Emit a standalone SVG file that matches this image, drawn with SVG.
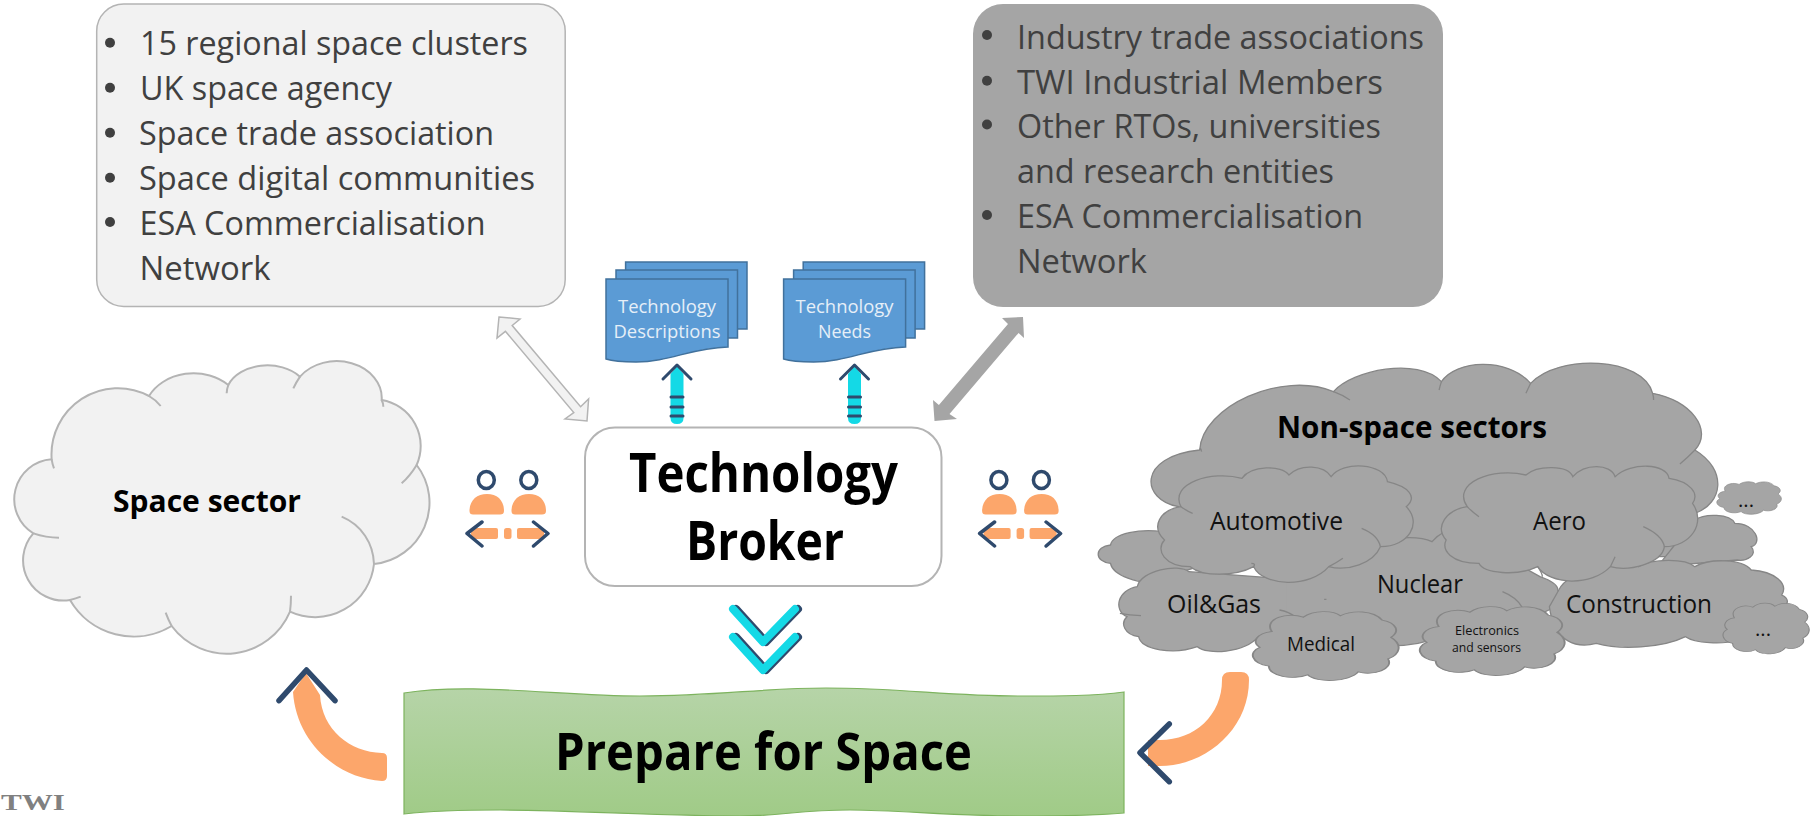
<svg xmlns="http://www.w3.org/2000/svg" xmlns:xlink="http://www.w3.org/1999/xlink" width="1816" height="816" viewBox="0 0 1816 816">
<style>
text{font-family:"Open Sans","Noto Sans","Liberation Sans",sans-serif}
.li{font-size:32px;fill:#404040}
.b{fill:#404040}
.tb{font-weight:700;fill:#000}
.sec{font-size:25px;fill:#111}
.doc{fill:#5b9bd5;stroke:#41719c;stroke-width:1.5}
.dt{font-size:19px;fill:#e6eff8;text-anchor:middle}
.cg path,.cg use{fill:#a5a5a5;stroke:#868686;stroke-width:1.3;vector-effect:non-scaling-stroke}
.cg path.t{fill:none}
.cg path.n{stroke:none}
.cs path{fill:#f2f2f2;stroke:#b4b4b4;stroke-width:2;vector-effect:non-scaling-stroke}
.cs path.t{fill:none}
.dk{fill:none;stroke:#2f4a6d;stroke-linecap:round;stroke-linejoin:round}
.or{fill:#fca66b}
.cy{fill:#14d9e6}
</style>
<defs>
<linearGradient id="gr" x1="0" y1="0" x2="0" y2="1"><stop offset="0" stop-color="#b6d4a8"/><stop offset="1" stop-color="#a0cb87"/></linearGradient>
<path id="sc" d="M14 30C8 12 25 2 35 10C42 0 55 0 60 8C68 0 82 0 88 14C98 18 100 30 94 38C102 48 100 62 92 68C96 82 82 92 72 86C66 100 44 102 38 90C28 98 12 92 12 78C0 74 -2 58 6 52C0 44 4 32 14 30Z"/>
<g id="people">
<ellipse cx="486.300" cy="480" rx="8" ry="8.500" fill="none" stroke="#2f4a6d" stroke-width="3.500"/>
<ellipse cx="528.800" cy="480" rx="8" ry="8.500" fill="none" stroke="#2f4a6d" stroke-width="3.500"/>
<path class="or" d="M469.500 511C469.500 500 477 494 487 494S504 500 504 511Q504 514.500 500 514.500H473Q469.500 514.500 469.500 511Z"/>
<path class="or" d="M511.500 511C511.500 500 519 494 529 494S546 500 546 511Q546 514.500 542 514.500H515Q511.500 514.500 511.500 511Z"/>
<rect class="or" x="471" y="528" width="27" height="11" rx="2"/>
<rect class="or" x="504" y="528" width="7.500" height="11" rx="2.500"/>
<rect class="or" x="517" y="528" width="27" height="11" rx="2"/>
<path class="dk" stroke-width="3.500" d="M482 522L467 533.500L482 546M533.500 522L548 533.500L533.500 546"/>
</g>
</defs>

<g id="connectors">
<polygon points="499,317 520,319 512.200,325.500 580.600,406.700 588.600,399 587,421 565,419 573.800,412.500 505.400,331.300 497,338" fill="#f2f2f2" stroke="#b4b4b4" stroke-width="1.500"/>
<polygon points="1023,317 1024,338 1018.600,332.900 949.500,414.100 957,419 934.500,421 933,400 938.900,405.100 1008,323.900 1002,318" fill="#a5a5a5"/>
<g id="up1">
<path class="cy" d="M670.500 374L677 366L683.500 374V418Q683.500 424 677 424T670.500 418Z"/>
<path class="dk" stroke-width="3" d="M663 379L677 365L691 379M671 397H683M671 407H683M671 416H683"/>
</g>
<g id="up2">
<path class="cy" d="M848 374L854.500 366L861 374V418Q861 424 854.500 424T848 418Z"/>
<path class="dk" stroke-width="3" d="M840.500 379L854.500 365L868.500 379M848.500 397H860.500M848.500 407H860.500M848.500 416H860.500"/>
</g>
<g id="down">
<path d="M736 609L766 642L798 609M736 637L766 670L798 637" fill="none" stroke="#2f4a6d" stroke-width="8" stroke-linecap="round" stroke-linejoin="round"/>
<path d="M733 609L763 642L795 609M733 637L763 670L795 637" fill="none" stroke="#14d9e6" stroke-width="8" stroke-linecap="round" stroke-linejoin="round"/>
</g>
<g id="arrow-to-space">
<path class="or" d="M293 692L306 673L320 695C322 730 350 752 382 753Q387 753 387 758V776Q387 781 382 781C335 778 296 740 293 692Z"/>
<path class="dk" stroke-width="5.500" d="M279 700.700L306.500 670L335 700.700"/>
</g>
<g id="arrow-to-prepare">
<path class="or" d="M1222 680Q1222 672 1230 672H1241Q1249 672 1249 680C1249 730 1205 766 1160 766H1148V740H1160C1195 740 1222 715 1222 680Z"/>
<path class="dk" stroke-width="5.500" d="M1169.300 724L1140 752.700L1169.300 781.700"/>
</g>
</g>

<g id="box-space">
<rect x="96.700" y="4" width="468.500" height="302.500" rx="27" fill="#f2f2f2" stroke="#b4b4b4" stroke-width="1.500"/>
<circle class="b" cx="110" cy="42.700" r="5"/><circle class="b" cx="110" cy="87.700" r="5"/><circle class="b" cx="110" cy="132.700" r="5"/><circle class="b" cx="110" cy="177.700" r="5"/><circle class="b" cx="110" cy="222" r="5"/>
<text class="li" x="140" y="55" textLength="388" lengthAdjust="spacingAndGlyphs">15 regional space clusters</text>
<text class="li" x="140" y="100" textLength="252" lengthAdjust="spacingAndGlyphs">UK space agency</text>
<text class="li" x="139" y="145" textLength="355" lengthAdjust="spacingAndGlyphs">Space trade association</text>
<text class="li" x="139" y="190" textLength="396" lengthAdjust="spacingAndGlyphs">Space digital communities</text>
<text class="li" x="139.500" y="235" textLength="346" lengthAdjust="spacingAndGlyphs">ESA Commercialisation</text>
<text class="li" x="139.500" y="280" textLength="131" lengthAdjust="spacingAndGlyphs">Network</text>
</g>

<g id="box-nonspace">
<rect x="973" y="4" width="470" height="303" rx="30" fill="#a5a5a5"/>
<circle class="b" cx="987" cy="35" r="5"/><circle class="b" cx="987" cy="80.700" r="5"/><circle class="b" cx="987" cy="124.500" r="5"/><circle class="b" cx="987" cy="215" r="5"/>
<text class="li" x="1017" y="49" textLength="407" lengthAdjust="spacingAndGlyphs">Industry trade associations</text>
<text class="li" x="1017" y="94" textLength="366" lengthAdjust="spacingAndGlyphs">TWI Industrial Members</text>
<text class="li" x="1017" y="138" textLength="364" lengthAdjust="spacingAndGlyphs">Other RTOs, universities</text>
<text class="li" x="1017" y="183" textLength="317" lengthAdjust="spacingAndGlyphs">and research entities</text>
<text class="li" x="1017" y="228" textLength="346" lengthAdjust="spacingAndGlyphs">ESA Commercialisation</text>
<text class="li" x="1017" y="273" textLength="130" lengthAdjust="spacingAndGlyphs">Network</text>
</g>

<g id="doc-descriptions">
<path class="doc" d="M625.600 262H747V329H640V275H625.600Z"/>
<path class="doc" d="M616 270H737.500V338H640V280H616Z"/>
<path class="doc" d="M606 279H728V347C690 348 670 362 636 362C622 362 612 361 606 359Z"/>
<text class="dt" x="667" y="313" textLength="98" lengthAdjust="spacingAndGlyphs">Technology</text>
<text class="dt" x="667" y="338" textLength="107" lengthAdjust="spacingAndGlyphs">Descriptions</text>
</g>
<g id="doc-needs">
<path class="doc" d="M803.200 262H924.600V329H817.600V275H803.200Z"/>
<path class="doc" d="M793.600 270H915.100V338H817.600V280H793.600Z"/>
<path class="doc" d="M783.600 279H905.600V347C867.600 348 847.600 362 813.600 362C799.600 362 789.600 361 783.600 359Z"/>
<text class="dt" x="844.500" y="313" textLength="98" lengthAdjust="spacingAndGlyphs">Technology</text>
<text class="dt" x="844.500" y="338" textLength="53" lengthAdjust="spacingAndGlyphs">Needs</text>
</g>

<g id="broker">
<rect x="585" y="427.500" width="356.500" height="158.500" rx="30" fill="#fff" stroke="#b4b4b4" stroke-width="2"/>
<text class="tb" x="629" y="492" font-size="54" textLength="269" lengthAdjust="spacingAndGlyphs">Technology</text>
<text class="tb" x="686" y="560" font-size="54" textLength="158" lengthAdjust="spacingAndGlyphs">Broker</text>
</g>

<g id="people-left"><use xlink:href="#people" href="#people"/></g>
<g id="people-right"><use xlink:href="#people" href="#people" transform="translate(512.600 0)"/></g>

<g id="space-sector">
<g class="cs" transform="translate(0 350) scale(.33333)">
<path d="M155 328A199 199 0 0 1 447 138A150 125 0 0 1 685 105A125 90 0 0 1 900 80A135 110 0 0 1 1145 150A140 140 0 0 1 1250 345A185 185 0 0 1 1122 642A178 178 0 0 1 870 785A206 206 0 0 1 515 828A221 221 0 0 1 210 750A121 121 0 0 1 100 550A120 120 0 0 1 155 328Z"/>
<path class="t" d="M447 138Q468 150 482 168M685 105Q680 118 680 130M900 80Q888 98 880 115M1145 150Q1150 160 1150 170M1250 345Q1230 378 1205 400M1025 500C1085 525 1120 580 1122 642M873 737Q873 762 870 785M497 788Q505 810 515 828M210 750Q228 746 242 740M100 550Q138 563 177 563M155 328Q157 342 162 355"/>
</g>
<text class="tb" x="113" y="512" font-size="31" textLength="188" lengthAdjust="spacingAndGlyphs">Space sector</text>
</g>

<g id="non-space-sectors">
<g class="cg" transform="translate(1080 350) scale(.46939 .33333)">
<path d="M255 300C260 170 430 60 540 125C580 60 720 20 770 95C800 30 910 20 960 100C1020 10 1200 20 1220 130C1300 150 1350 240 1310 300C1380 360 1370 460 1310 490L1250 620L300 620L210 470C130 450 120 320 255 300Z"/>
<path class="t" d="M540 125Q560 135 575 150M770 95Q767 108 765 120M960 100Q955 115 950 130M1220 130Q1222 140 1222 150M1310 300Q1295 322 1278 342M255 300Q257 290 259 305"/>
<path d="M175 545C130 535 70 550 65 585C30 590 30 635 65 640C70 680 130 700 150 695L320 620Z"/>
<path d="M1310 510C1330 490 1385 490 1395 520C1440 520 1455 580 1430 590C1445 615 1420 635 1400 630L1230 650Z"/>
<path d="M480 790C475 770 485 755 500 745C470 730 460 715 470 700C490 640 570 590 620 590C650 560 720 555 750 575C765 550 785 540 800 540L980 680C1000 690 1018 705 1018 720C1030 750 1010 780 980 790L720 880C640 900 520 880 480 790Z"/>
<path class="t" d="M900 725Q930 742 942 772M470 740Q495 750 525 748"/>
<path d="M1020 720C1040 660 1150 620 1190 650C1220 625 1290 625 1310 650C1340 625 1410 625 1430 660C1480 665 1510 700 1495 735C1510 745 1510 760 1500 770L1400 870C1370 885 1310 880 1290 860C1240 895 1150 900 1100 880C1060 895 1010 880 1000 770Z"/>
<path d="M122 710C130 660 210 640 232 665L470 690L490 800L380 860C350 910 270 915 250 890C200 915 130 900 125 860C95 855 85 820 100 800C70 780 80 720 122 710Z"/>
<path class="n" d="M440 690L520 690L520 800L440 800Z"/>
<path class="t" d="M425 780Q445 785 460 802M85 790Q105 795 130 797"/>
<path d="M215 470C190 400 280 360 345 385C365 345 430 345 445 375C470 340 520 345 535 380C560 330 650 340 655 395C700 410 720 440 695 470C730 520 700 590 640 590C625 640 570 665 530 650C490 715 390 710 370 650C330 680 260 680 235 650C180 650 160 600 180 570C150 530 170 480 215 470Z"/>
<path class="t" d="M600 535Q635 555 640 590M530 650Q545 640 560 625M370 650Q375 640 365 640M215 470Q230 485 240 490"/>
<path d="M825 470C790 400 880 350 950 375C975 345 1040 345 1050 380C1075 340 1130 340 1140 380C1175 335 1250 340 1255 385C1300 395 1320 430 1305 460C1335 520 1300 590 1245 590C1240 640 1170 665 1130 650C1090 710 1000 705 975 650C930 680 860 670 850 640C790 640 770 600 780 570C755 530 780 480 825 470Z"/>
<path class="t" d="M1200 530Q1240 555 1245 590M1130 650Q1135 635 1140 620M975 650Q985 670 985 680M825 470Q835 485 850 500"/>
</g>
<g class="cg">
<use xlink:href="#sc" href="#sc" transform="translate(1716 481) scale(.66 .34)"/>
<use xlink:href="#sc" href="#sc" transform="translate(1722 602) scale(.88 .53)"/>
<use xlink:href="#sc" href="#sc" transform="translate(1251 610) scale(1.49 .72)"/>
<use xlink:href="#sc" href="#sc" transform="translate(1418 605) scale(1.48 .72)"/>
</g>
<text class="tb" x="1277" y="438" font-size="31" textLength="270" lengthAdjust="spacingAndGlyphs">Non-space sectors</text>
<text class="sec" x="1210" y="530" textLength="133" lengthAdjust="spacingAndGlyphs">Automotive</text>
<text class="sec" x="1533" y="530" textLength="53" lengthAdjust="spacingAndGlyphs">Aero</text>
<text class="sec" x="1377" y="593" textLength="86" lengthAdjust="spacingAndGlyphs">Nuclear</text>
<text class="sec" x="1167" y="613" textLength="94" lengthAdjust="spacingAndGlyphs">Oil&amp;Gas</text>
<text class="sec" x="1566" y="613" textLength="146" lengthAdjust="spacingAndGlyphs">Construction</text>
<text class="sec" x="1287" y="651" style="font-size:20px" textLength="68" lengthAdjust="spacingAndGlyphs">Medical</text>
<text class="sec" x="1455" y="635" style="font-size:13px" textLength="64" lengthAdjust="spacingAndGlyphs">Electronics</text>
<text class="sec" x="1452" y="652" style="font-size:13px" textLength="69" lengthAdjust="spacingAndGlyphs">and sensors</text>
<text class="sec" x="1738" y="507" style="font-size:20px" textLength="16" lengthAdjust="spacingAndGlyphs">...</text>
<text class="sec" x="1755" y="636" style="font-size:20px" textLength="16" lengthAdjust="spacingAndGlyphs">...</text>
</g>

<g id="prepare">
<path d="M404 693C470 682 560 696 640 696C720 696 760 688 826 688C900 688 950 696 1020 696C1060 696 1095 696 1124 692V813C1090 816 1060 816 1020 816C950 816 900 810 850 810C800 810 780 816 740 816C660 816 570 810 500 810C460 810 430 811 404 814Z" fill="url(#gr)" stroke="#7db35e" stroke-width="1.200"/>
<text class="tb" x="555" y="770" font-size="52" textLength="417" lengthAdjust="spacingAndGlyphs">Prepare for Space</text>
</g>

<text id="twi" x="1" y="810" font-size="24" font-weight="700" fill="#808080" textLength="64" lengthAdjust="spacingAndGlyphs" style="font-family:'Liberation Serif',serif">TWI</text>
</svg>
